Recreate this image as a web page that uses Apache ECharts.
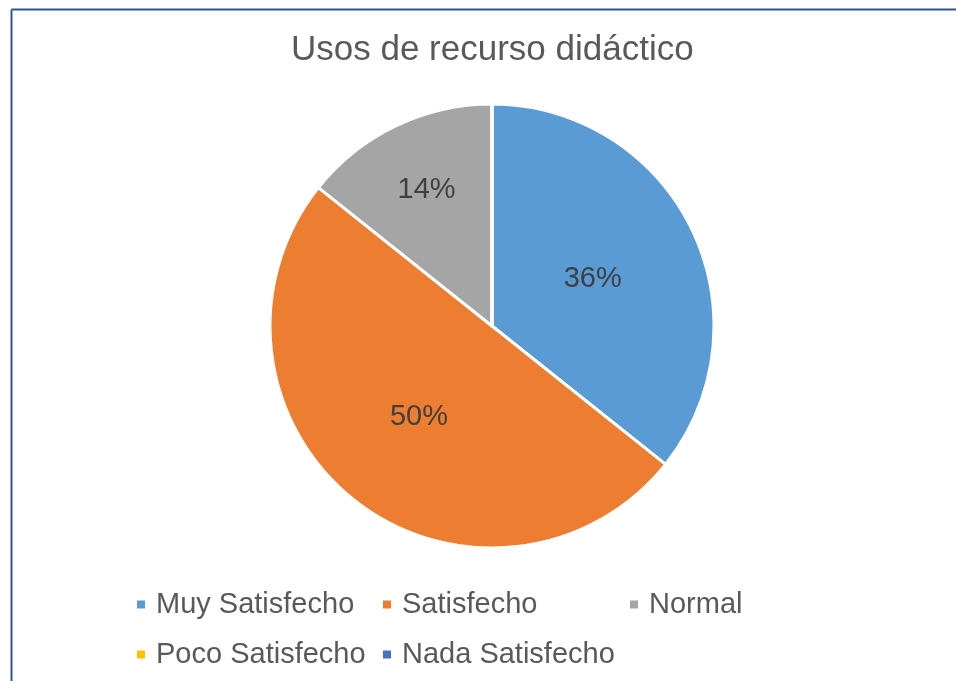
<!DOCTYPE html>
<html>
<head>
<meta charset="utf-8">
<script src="https://cdn.jsdelivr.net/npm/echarts@6/dist/echarts.min.js"></script>
<style>
  body { margin: 0; background: #fff; }
  #main { width: 956px; height: 681px; }
</style>
</head>
<body>
<div id="main"></div>
<script>
// datos del grafico
var categorias = ['Muy Satisfecho', 'Satisfecho', 'Normal', 'Poco Satisfecho', 'Nada Satisfecho'];
var respuestas = [5, 7, 2, 0, 0];
var colores = ['#5B9BD5', '#ED7D31', '#A5A5A5', '#FFC000', '#4472C4'];

var myChart = echarts.init(document.getElementById('main'));

var datos = categorias.map(function (c, i) {
  var item = { name: c, value: respuestas[i], itemStyle: { color: colores[i] } };
  if (c == 'Normal') {
    // Excel pone esta etiqueta un poco mas afuera
    item.label = { offset: [-16, -33] };
  }
  return item;
});

// leyenda en rejilla de 3 columnas, como en Excel
var columnas = [137, 383, 630];
var filas = [590, 640];
var leyendas = categorias.map(function (c, i) {
  return {
    data: [c],
    left: columnas[i % 3],
    top: filas[Math.floor(i / 3)],
    padding: 0,
    icon: 'rect',
    itemWidth: 8,
    itemHeight: 8,
    itemStyle: { borderWidth: 0 },
    selectedMode: false,
    textStyle: {
      color: '#595959',
      fontFamily: 'Liberation Sans, Arial, sans-serif',
      fontSize: 29,
      padding: [0, 0, 0, 6]
    }
  };
});

var option = {
  animation: false,
  title: {
    text: 'Usos de recurso didáctico',
    left: 286,
    top: 28,
    textStyle: {
      color: '#595959',
      fontFamily: 'Liberation Sans, Arial, sans-serif',
      fontSize: 35,
      fontWeight: 'normal'
    }
  },
  legend: leyendas,
  graphic: [{
    type: 'line',
    shape: { x1: 11.5, y1: 9.5, x2: 956, y2: 9.5 },
    style: { stroke: '#2F5597', lineWidth: 2 }
  }, {
    type: 'line',
    shape: { x1: 11.5, y1: 9.5, x2: 11.5, y2: 681 },
    style: { stroke: '#2F5597', lineWidth: 2 }
  }],
  series: [{
    name: 'Usos',
    type: 'pie',
    center: [492, 326],
    radius: 222,
    startAngle: 90,
    clockwise: true,
    itemStyle: { borderColor: '#fff', borderWidth: 3 },
    label: {
      show: true,
      position: 'inside',
      color: '#404040',
      fontFamily: 'Liberation Sans, Arial, sans-serif',
      fontSize: 29,
      offset: [-2, 2],
      formatter: function (p) {
        if (p.value == 0) return '';
        return Math.round(p.percent) + '%';
      }
    },
    labelLine: { show: false },
    emphasis: { disabled: true },
    data: datos
  }]
};

myChart.setOption(option);
</script>
</body>
</html>
